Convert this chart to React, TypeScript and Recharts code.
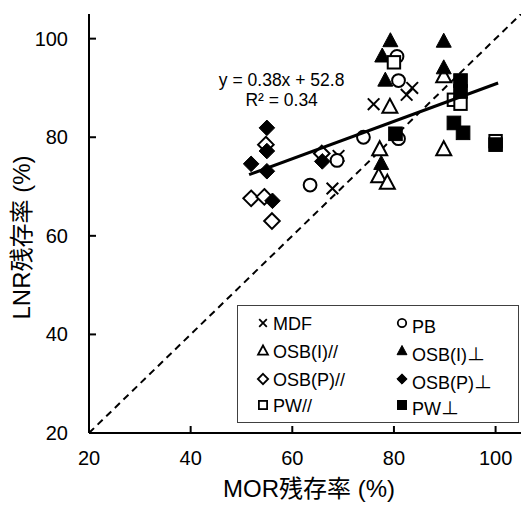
import React from 'react';
import { ComposedChart, Scatter, XAxis, YAxis, Legend } from 'recharts';

const FONT = '"Liberation Sans", Arial, "Noto Sans CJK JP", sans-serif';

// ---- data ----
const mdfX = [67.9, 69.1, 76.0, 82.5, 83.6];
const mdfY = [69.6, 76.2, 86.7, 88.6, 90.0];
const pbX = [63.5, 68.8, 74.0, 80.9, 80.6, 80.9];
const pbY = [70.3, 75.3, 80.0, 79.7, 96.4, 91.5];
const osbIParX = [79.2, 77.2, 77.0, 78.7, 89.8, 89.8];
const osbIParY = [86.1, 77.5, 72.0, 70.7, 92.3, 77.5];
const osbIPerpX = [79.3, 77.7, 78.3, 77.5, 89.8, 89.8];
const osbIPerpY = [99.5, 96.4, 91.5, 74.6, 99.4, 94.0];
const osbPParX = [54.8, 51.9, 54.5, 56.0, 65.8];
const osbPParY = [78.5, 67.6, 67.9, 63.0, 76.7];
const osbPPerpX = [55.0, 55.0, 51.9, 55.0, 56.1, 65.9];
const osbPPerpY = [81.9, 77.2, 74.6, 73.1, 67.1, 75.1];
const pwParX = [80.0, 91.8, 93.1, 100.0];
const pwParY = [95.2, 87.6, 86.8, 79.2];
const pwPerpX = [80.3, 93.1, 93.1, 91.8, 93.6, 100.0];
const pwPerpY = [80.7, 91.5, 89.3, 82.9, 80.9, 78.5];

const diagX = [20, 105];
const diagY = [20, 105];
const trendX = [51.5, 100.5];
const trendY = [72.4, 91.0];

const xTicks = [20, 40, 60, 80, 100];
const yTicks = [20, 40, 60, 80, 100];
const seriesNames = ['MDF', 'PB', 'OSB(I)//', 'OSB(I)⊥', 'OSB(P)//', 'OSB(P)⊥', 'PW//', 'PW⊥'];
const kinds = ['cross', 'circle', 'triOpen', 'triFill', 'diaOpen', 'diaFill', 'sqOpen', 'sqFill'];
const eqText = 'y = 0.38x + 52.8';
const r2Text = 'R² = 0.34';
const eqPos = [{ x: 57.9, y: 90.3 }];

const toPts = (xs: number[], ys: number[]) => xs.map((x, i) => ({ x, y: ys[i] }));
const seriesData = [
  toPts(mdfX, mdfY),
  toPts(pbX, pbY),
  toPts(osbIParX, osbIParY),
  toPts(osbIPerpX, osbIPerpY),
  toPts(osbPParX, osbPParY),
  toPts(osbPPerpX, osbPPerpY),
  toPts(pwParX, pwParY),
  toPts(pwPerpX, pwPerpY),
];

function Marker({ kind, cx, cy, s = 1, sw = 2 }: { kind: string; cx: number; cy: number; s?: number; sw?: number }) {
  if (cx == null || cy == null) return <g />;
  switch (kind) {
    case 'cross': {
      const h = 5.8 * s;
      return (
        <g stroke="#000" strokeWidth={sw}>
          <line x1={cx - h} y1={cy - h} x2={cx + h} y2={cy + h} />
          <line x1={cx - h} y1={cy + h} x2={cx + h} y2={cy - h} />
        </g>
      );
    }
    case 'circle':
      return <circle cx={cx} cy={cy} r={6.4 * s} fill="#fff" stroke="#000" strokeWidth={sw} />;
    case 'triOpen':
    case 'triFill': {
      const w = 7.5 * s;
      const h = 14 * s;
      const pts = `${cx},${cy - h * 0.6} ${cx + w},${cy + h * 0.4} ${cx - w},${cy + h * 0.4}`;
      return kind === 'triOpen' ? (
        <polygon points={pts} fill="#fff" stroke="#000" strokeWidth={sw} strokeLinejoin="miter" />
      ) : (
        <polygon points={pts} fill="#000" stroke="#000" strokeWidth={1} />
      );
    }
    case 'diaOpen':
    case 'diaFill': {
      const r = 7.8 * s;
      const pts = `${cx},${cy - r} ${cx + r},${cy} ${cx},${cy + r} ${cx - r},${cy}`;
      return kind === 'diaOpen' ? (
        <polygon points={pts} fill="#fff" stroke="#000" strokeWidth={sw} />
      ) : (
        <polygon points={pts} fill="#000" stroke="#000" strokeWidth={1} />
      );
    }
    case 'sqOpen':
      return <rect x={cx - 6.2 * s} y={cy - 6.2 * s} width={12.4 * s} height={12.4 * s} fill="#fff" stroke="#000" strokeWidth={sw} />;
    case 'sqFill':
      return <rect x={cx - 6.8 * s} y={cy - 6.8 * s} width={13.6 * s} height={13.6 * s} fill="#000" stroke="#000" strokeWidth={1} />;
    default:
      return <g />;
  }
}

function YTick(props: any) {
  const { x, y, payload } = props;
  return (
    <g>
      <line x1={x} x2={x + 7} y1={y} y2={y} stroke="#000" strokeWidth={2} />
      <text x={x - 21} y={y + 7} textAnchor="end" fontSize={20} fontFamily={FONT} fill="#000">
        {payload.value}
      </text>
    </g>
  );
}

function XTick(props: any) {
  const { x, y, payload } = props;
  return (
    <g>
      <line x1={x} x2={x} y1={y} y2={y - 7} stroke="#000" strokeWidth={2} />
      <text x={x} y={y + 32} textAnchor="middle" fontSize={20} fontFamily={FONT} fill="#000">
        {payload.value}
      </text>
    </g>
  );
}

function XTitle(props: any) {
  const vb = props.viewBox || {};
  return (
    <text x={vb.x + vb.width / 2 + 4} y={vb.y + 64} textAnchor="middle" fontSize={24} fontFamily={FONT} fill="#000">
      MOR残存率 (%)
    </text>
  );
}

function YTitle(props: any) {
  const vb = props.viewBox || {};
  const cx = vb.x - 8;
  const cy = vb.y + vb.height / 2 + 14;
  return (
    <text
      x={cx}
      y={cy}
      transform={`rotate(-90 ${cx} ${cy})`}
      textAnchor="middle"
      dominantBaseline="central"
      fontSize={24}
      fontFamily={FONT}
      fill="#000"
    >
      LNR残存率 (%)
    </text>
  );
}

function LegendBox() {
  const rows = [18, 46, 74, 100];
  return (
    <svg width={282} height={118} style={{ display: 'block' }}>
      <rect x={0.5} y={0.5} width={281} height={117} fill="#fff" stroke="#404040" strokeWidth={1} />
      {seriesNames.map((name, i) => {
        const col = i % 2;
        const row = Math.floor(i / 2);
        const mx = col === 0 ? 26 : 165;
        const tx = col === 0 ? 36 : 175;
        const cy = rows[row];
        return (
          <g key={name}>
            <Marker kind={kinds[i]} cx={mx} cy={cy} s={0.66} sw={1.8} />
            <text x={tx} y={cy + 7 + (col === 1 ? 3 : 0)} fontSize={18} fontFamily={FONT} fill="#000">
              {name}
            </text>
          </g>
        );
      })}
    </svg>
  );
}

function EqLabel(props: any) {
  const { cx, cy } = props;
  if (cx == null) return <g />;
  return (
    <g>
      <text x={cx} y={cy} textAnchor="middle" fontSize={17.5} fontFamily={FONT} fill="#000">
        {eqText}
      </text>
      <text x={cx} y={cy + 19.5} textAnchor="middle" fontSize={17.5} fontFamily={FONT} fill="#000">
        {r2Text}
      </text>
    </g>
  );
}

const none = () => <g />;

export default function App() {
  return (
    <div style={{ position: 'absolute', left: 0, top: 0, width: 525, height: 507, background: '#fff' }}>
      <ComposedChart width={525} height={507} margin={{ top: 14, right: 4, bottom: 24, left: 29 }}>
        <XAxis
          dataKey="x"
          type="number"
          domain={[20, 105]}
          ticks={xTicks}
          height={50}
          tickSize={0}
          tickMargin={0}
          tickLine={false}
          axisLine={{ stroke: '#000', strokeWidth: 2 }}
          tick={<XTick />}
          label={<XTitle />}
          allowDataOverflow
        />
        <YAxis
          dataKey="y"
          type="number"
          domain={[20, 105]}
          ticks={yTicks}
          width={60}
          tickSize={0}
          tickMargin={0}
          tickLine={false}
          axisLine={{ stroke: '#000', strokeWidth: 2 }}
          tick={<YTick />}
          label={<YTitle />}
          allowDataOverflow
        />
        <XAxis xAxisId="top" orientation="top" type="number" domain={[20, 105]} height={0} tick={false} tickLine={false} axisLine={{ stroke: '#000', strokeWidth: 2 }} />
        <YAxis yAxisId="right" orientation="right" type="number" domain={[20, 105]} width={0} tick={false} tickLine={false} axisLine={{ stroke: '#000', strokeWidth: 2 }} />
        <Scatter
          name="diag"
          data={toPts(diagX, diagY)}
          fill="#000"
          line={{ stroke: '#000', strokeWidth: 2, strokeDasharray: '7 5' }}
          shape={none}
          legendType="none"
          isAnimationActive={false}
        />
        {seriesData.map((d, i) => (
          <Scatter
            key={seriesNames[i]}
            name={seriesNames[i]}
            data={d}
            fill="#000"
            shape={(p: any) => <Marker kind={kinds[i]} cx={p.cx} cy={p.cy} />}
            isAnimationActive={false}
          />
        ))}
        <Scatter
          name="trend"
          data={toPts(trendX, trendY)}
          fill="#000"
          line={{ stroke: '#000', strokeWidth: 3 }}
          shape={none}
          legendType="none"
          isAnimationActive={false}
        />
        <Scatter name="eq" data={eqPos} fill="#000" shape={(p: any) => <EqLabel cx={p.cx} cy={p.cy} />} legendType="none" isAnimationActive={false} />
        <Legend
          layout="horizontal"
          verticalAlign="middle"
          align="center"
          content={() => <LegendBox />}
          wrapperStyle={{ left: 237, top: 305, width: 282, height: 118 }}
        />
      </ComposedChart>
    </div>
  );
}
